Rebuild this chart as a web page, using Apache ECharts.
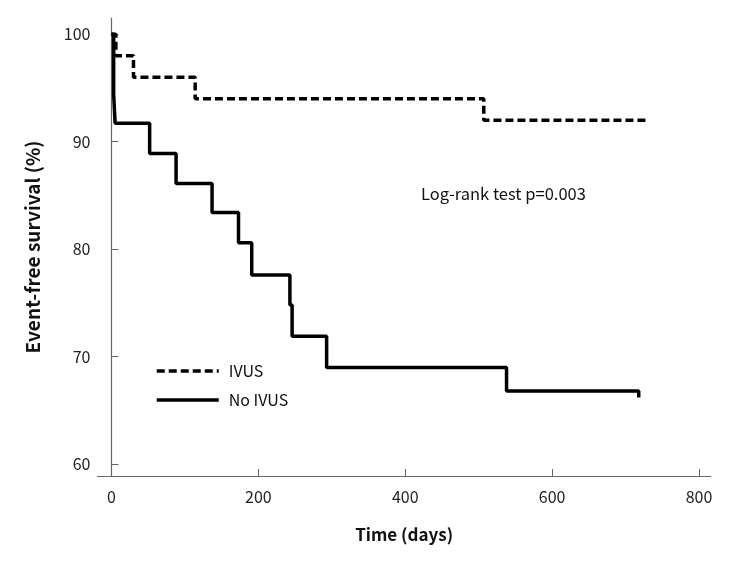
<!DOCTYPE html>
<html>
<head>
<meta charset="utf-8">
<script src="https://cdn.jsdelivr.net/npm/echarts@6/dist/echarts.min.js"></script>
<style>html,body{margin:0;padding:0;background:#fff}#c{width:736px;height:561px}</style>
</head>
<body>
<div id="c"></div>
<script>
// Data
const ivusTimes = [0, 6, 30, 114, 507, 729];
const ivusSurvival = [100, 98, 96, 94, 92, 92];
const noIvusTimes = [0, 3, 5, 52, 88, 137, 173, 191, 243, 246, 293, 538, 718];
const noIvusSurvival = [100, 94.4, 91.7, 88.9, 86.1, 83.4, 80.6, 77.6, 74.8, 71.9, 69.0, 66.8, 66.2];
const xTicks = [0, 200, 400, 600, 800];
const yTicks = [60, 70, 80, 90, 100];
const seriesNames = ['IVUS', 'No IVUS'];
const annotation = 'Log-rank test p=0.003';

const FONT = 'Noto Sans CJK KR';
const chart = echarts.init(document.getElementById('c'), null, {renderer: 'canvas'});
const zip = (a, b) => a.map((t, i) => [t, b[i]]);

chart.setOption({
  animation: false,
  backgroundColor: '#fff',
  grid: {left: 97.5, right: 25.3, top: 18, bottom: 85, containLabel: false},
  xAxis: {
    type: 'value', min: -19, max: 816,
    name: 'Time (days)', nameLocation: 'middle', nameGap: 50,
    nameTextStyle: {fontFamily: FONT, fontSize: 17, fontWeight: 'bold', color: '#111'},
    axisLine: {show: true, lineStyle: {color: '#666', width: 1.2}},
    axisTick: {show: true, inside: true, length: 7, lineStyle: {color: '#666'}, customValues: xTicks},
    axisLabel: {customValues: xTicks, margin: 13, fontFamily: FONT, fontSize: 16, color: '#222'},
    splitLine: {show: false}
  },
  yAxis: {
    type: 'value', min: 58.9, max: 101.5,
    name: 'Event-free survival (%)', nameLocation: 'middle', nameGap: 55, nameRotate: 90,
    nameTextStyle: {fontFamily: FONT, fontSize: 19, fontWeight: 'bold', color: '#111'},
    axisLine: {show: true, lineStyle: {color: '#666', width: 1.2}},
    axisTick: {show: true, inside: true, length: 7, lineStyle: {color: '#666'}, customValues: yTicks},
    axisLabel: {customValues: yTicks, margin: 7, fontFamily: FONT, fontSize: 16, color: '#222'},
    splitLine: {show: false}
  },
  legend: {
    orient: 'vertical', left: 155, top: 363, padding: 0,
    itemWidth: 62, itemHeight: 14, itemGap: 13,
    itemStyle: {opacity: 0},
    lineStyle: {width: 3.5},
    textStyle: {fontFamily: FONT, fontSize: 16, color: '#111', padding: [0, 0, 0, 5]},
    data: seriesNames
  },
  series: [
    {
      name: seriesNames[0], type: 'line', step: 'end', symbol: 'none',
      data: zip(ivusTimes, ivusSurvival),
      lineStyle: {color: '#000', width: 3.5, type: [8, 4]},
      itemStyle: {color: '#000'}
    },
    {
      name: seriesNames[1], type: 'line', step: 'end', symbol: 'none',
      data: zip(noIvusTimes, noIvusSurvival),
      lineStyle: {color: '#000', width: 3.5, type: 'solid'},
      itemStyle: {color: '#000'}
    }
  ],
  graphic: [{
    type: 'text', left: 421, top: 185,
    style: {text: annotation, fontFamily: FONT, fontSize: 16.5, fill: '#111'}
  }]
});
</script>
</body>
</html>
